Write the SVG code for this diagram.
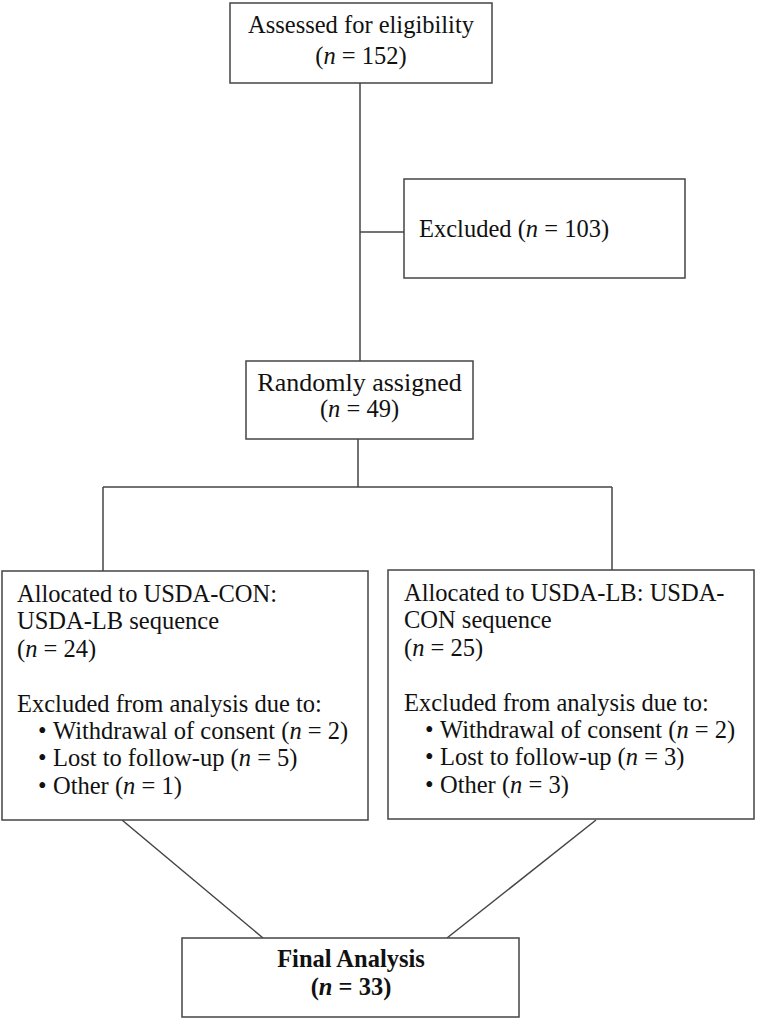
<svg xmlns="http://www.w3.org/2000/svg" width="757" height="1021" viewBox="0 0 757 1021">
<style>
.box{fill:#fff;stroke:#444;stroke-width:1.5}
.ln{fill:none;stroke:#444;stroke-width:1.5}
text{font-family:"Liberation Serif","Times New Roman",serif;font-size:24.5px;fill:#111}
.c{text-anchor:middle}
.b{font-weight:bold}
</style>
<rect width="757" height="1021" fill="#fff"/>
<g id="connectors">
<line class="ln" x1="360" y1="83" x2="360" y2="361"/>
<line class="ln" x1="360" y1="232" x2="404" y2="232"/>
<line class="ln" x1="358" y1="439" x2="358" y2="487"/>
<line class="ln" x1="103" y1="487" x2="612" y2="487"/>
<line class="ln" x1="103" y1="487" x2="103" y2="571"/>
<line class="ln" x1="612" y1="487" x2="612" y2="570"/>
<line class="ln" x1="122" y1="820" x2="263" y2="938"/>
<line class="ln" x1="596" y1="820" x2="447" y2="938"/>
</g>
<g id="assessed">
<rect class="box" x="230" y="3" width="262" height="80"/>
<text class="c" x="361" y="33">Assessed for eligibility</text>
<text class="c" x="361" y="64">(<tspan font-style="italic">n</tspan> = 152)</text>
</g>
<g id="excluded">
<rect class="box" x="404" y="179" width="281" height="99"/>
<text x="419" y="237">Excluded (<tspan font-style="italic">n</tspan> = 103)</text>
</g>
<g id="randomized">
<rect class="box" x="246" y="361" width="227" height="78"/>
<text class="c" x="359.5" y="391" style="font-size:26px">Randomly assigned</text>
<text class="c" x="359.5" y="417">(<tspan font-style="italic">n</tspan> = 49)</text>
</g>
<g id="armCON">
<rect class="box" x="2" y="571" width="366" height="249"/>
<text x="17" y="602">Allocated to USDA-CON:</text>
<text x="17" y="629.4">USDA-LB sequence</text>
<text x="17" y="656.8">(<tspan font-style="italic">n</tspan> = 24)</text>
<text x="17" y="711.6">Excluded from analysis due to:</text>
<text y="739"><tspan x="38">•</tspan><tspan x="53">Withdrawal of consent (</tspan><tspan font-style="italic">n</tspan> = 2)</text>
<text y="766.4"><tspan x="38">•</tspan><tspan x="53">Lost to follow-up (</tspan><tspan font-style="italic">n</tspan> = 5)</text>
<text y="793.8"><tspan x="38">•</tspan><tspan x="53">Other (</tspan><tspan font-style="italic">n</tspan> = 1)</text>
</g>
<g id="armLB">
<rect class="box" x="388" y="570" width="366" height="249"/>
<text x="404" y="601">Allocated to USDA-LB: USDA-</text>
<text x="404" y="628.4">CON sequence</text>
<text x="404" y="655.8">(<tspan font-style="italic">n</tspan> = 25)</text>
<text x="404" y="710.6">Excluded from analysis due to:</text>
<text y="738"><tspan x="425">•</tspan><tspan x="440">Withdrawal of consent (</tspan><tspan font-style="italic">n</tspan> = 2)</text>
<text y="765.4"><tspan x="425">•</tspan><tspan x="440">Lost to follow-up (</tspan><tspan font-style="italic">n</tspan> = 3)</text>
<text y="792.8"><tspan x="425">•</tspan><tspan x="440">Other (</tspan><tspan font-style="italic">n</tspan> = 3)</text>
</g>
<g id="final">
<rect class="box" x="182" y="938" width="337" height="79"/>
<text class="c b" x="351" y="967">Final Analysis</text>
<text class="c b" x="351" y="995">(<tspan font-style="italic">n</tspan> = 33)</text>
</g>
</svg>
